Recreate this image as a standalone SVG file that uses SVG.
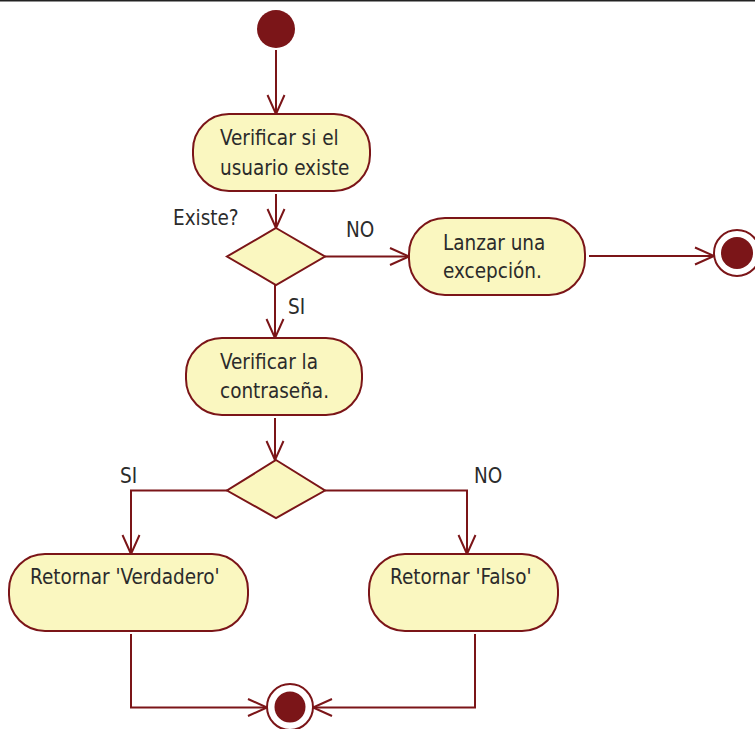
<svg xmlns="http://www.w3.org/2000/svg" width="755" height="729" viewBox="0 0 755 729">
  <style>
    .action { fill: #faf7c0; stroke: #7b1518; stroke-width: 2; }
    .decision { fill: #faf7c0; stroke: #7b1518; stroke-width: 2; }
    .flow { fill: none; stroke: #7b1518; stroke-width: 2; marker-end: url(#open-arrow); }
    .label { font-family: "DejaVu Sans Condensed", "DejaVu Sans", sans-serif; font-stretch: condensed; font-size: 20.5px; fill: #2b2b2b; }
    .dot { fill: #7b1518; }
    .ring { fill: #ffffff; stroke: #7b1518; stroke-width: 2; }
  </style>
  <defs>
    <marker id="open-arrow" markerUnits="userSpaceOnUse" markerWidth="24" markerHeight="22" viewBox="-21 -11 24 22" refX="0" refY="0" orient="auto">
      <path d="M -19 -8.5 L 0 0 L -19 8.5" fill="none" stroke="#7b1518" stroke-width="2"/>
    </marker>
  </defs>

  <rect x="0" y="0" width="755" height="729" fill="#ffffff"/>
  <line x1="0" y1="0.75" x2="755" y2="0.75" stroke="#222222" stroke-width="1.5"/>

  <g id="connectors">
    <path class="flow" d="M 276 50 L 276 114"/>
    <path class="flow" d="M 276 194 L 276 228"/>
    <path class="flow" d="M 325 256.5 L 409 256.5"/>
    <path class="flow" d="M 589 256 L 714 256"/>
    <path class="flow" d="M 275 285 L 275 338"/>
    <path class="flow" d="M 275 418 L 275 460"/>
    <path class="flow" d="M 227 490.5 L 131 490.5 L 131 554"/>
    <path class="flow" d="M 325 490.5 L 467 490.5 L 467 554"/>
    <path class="flow" d="M 131 634 L 131 707.5 L 267 707.5"/>
    <path class="flow" d="M 475 634 L 475 707.5 L 313 707.5"/>
  </g>

  <g id="start">
    <circle class="dot" cx="276" cy="29" r="19"/>
  </g>

  <g id="verificar-usuario">
    <rect class="action" x="193" y="114" width="177" height="77" rx="36" ry="36"/>
    <text class="label" x="220" y="145">Verificar si el</text>
    <text class="label" x="220" y="175">usuario existe</text>
  </g>

  <g id="existe">
    <polygon class="decision" points="276,228 325,256.5 276,285 227,256.5"/>
    <text class="label" x="173" y="225">Existe?</text>
  </g>

  <g id="lanzar-excepcion">
    <rect class="action" x="409" y="218" width="176" height="77" rx="36" ry="36"/>
    <text class="label" x="443" y="250">Lanzar una</text>
    <text class="label" x="443" y="278">excepción.</text>
  </g>

  <g id="fin-excepcion">
    <circle class="ring" cx="737" cy="253" r="23"/>
    <circle class="dot" cx="737" cy="253" r="16"/>
  </g>

  <g id="verificar-contrasena">
    <rect class="action" x="186" y="338" width="176" height="77" rx="36" ry="36"/>
    <text class="label" x="220" y="369">Verificar la</text>
    <text class="label" x="220" y="398">contraseña.</text>
  </g>

  <g id="contrasena-valida">
    <polygon class="decision" points="276,460 325,490.5 276,518 227,490.5"/>
  </g>

  <g id="flow-labels">
    <text class="label" x="346" y="237">NO</text>
    <text class="label" x="288" y="314">SI</text>
    <text class="label" x="120" y="483">SI</text>
    <text class="label" x="474" y="483">NO</text>
  </g>

  <g id="retornar-verdadero">
    <rect class="action" x="9" y="554" width="239" height="77" rx="36" ry="36"/>
    <text class="label" x="30" y="584">Retornar 'Verdadero'</text>
  </g>

  <g id="retornar-falso">
    <rect class="action" x="369" y="554" width="189" height="77" rx="36" ry="36"/>
    <text class="label" x="390" y="584">Retornar 'Falso'</text>
  </g>

  <g id="fin">
    <circle class="ring" cx="290" cy="707" r="23"/>
    <circle class="dot" cx="290" cy="707" r="15.5"/>
  </g>
</svg>
